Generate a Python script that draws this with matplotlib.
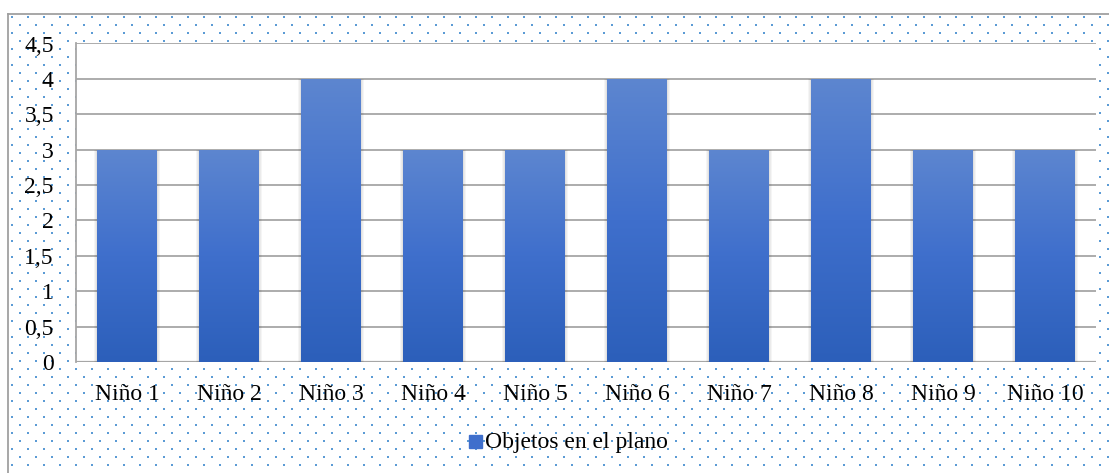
import numpy as np
import matplotlib
matplotlib.use("Agg")
import matplotlib.pyplot as plt
from matplotlib.patches import Rectangle

# Data
categories = ["Niño 1", "Niño 2", "Niño 3", "Niño 4", "Niño 5",
              "Niño 6", "Niño 7", "Niño 8", "Niño 9", "Niño 10"]
objetos = [3, 3, 4, 3, 3, 4, 3, 4, 3, 3]
y_ticks = [0, 0.5, 1, 1.5, 2, 2.5, 3, 3.5, 4, 4.5]
y_labels = ["0", "0,5", "1", "1,5", "2", "2,5", "3", "3,5", "4", "4,5"]
series_name = "Objetos en el plano"

plt.rcParams['font.family'] = ['Liberation Serif', 'DejaVu Serif']
FS = 17

W, H = 1109, 473
fig = plt.figure(figsize=(W / 100, H / 100), dpi=100)

# dotted background pattern (figure coords in pixels)
bg = fig.add_axes([0, 0, 1, 1])
bg.set_xlim(0, W)
bg.set_ylim(H, 0)
bg.axis("off")
xs, ys = [], []
for r, yy in enumerate(np.arange(17, H, 8)):
    start = 12 if r % 2 == 0 else 4
    for xx in np.arange(start, W, 16):
        if xx > 9 and yy > 15:
            xs.append(xx)
            ys.append(yy)
bg.scatter(xs, ys, s=2.2, marker="s", color="#5b9bd5", linewidths=0)
bg.plot([8, 8], [H, 14], color="#a0a0a0", lw=1.3)
bg.plot([8, W], [14, 14], color="#a0a0a0", lw=1.3)

# plot area
left, right, top, bottom = 76, 1096, 43.5, 362
ax = fig.add_axes([left / W, 1 - bottom / H, (right - left) / W, (bottom - top) / H])
ax.set_facecolor("white")
ax.set_zorder(2)

x = np.arange(len(categories))
width = 0.58

ax.set_yticks(y_ticks)
ax.set_yticklabels(y_labels)
ax.yaxis.grid(True, color="#a6a6a6", lw=1.3)
ax.set_axisbelow(True)
for s in ["top", "right", "bottom"]:
    ax.spines[s].set_visible(False)
ax.spines["left"].set_color("#a6a6a6")
ax.spines["left"].set_linewidth(1.3)
ax.axhline(0, color="#a6a6a6", lw=1.6, zorder=1)
ax.tick_params(axis="y", length=0, pad=16, labelsize=FS)
ax.set_xticks(x)
ax.set_xticklabels(categories)
ax.tick_params(axis="x", length=0, pad=16, labelsize=FS)

# gradient bars with soft side shadow
grad = np.linspace(0, 1, 256).reshape(-1, 1)
cmap = matplotlib.colors.LinearSegmentedColormap.from_list(
    "bar", ["#2c5fba", "#3f6fcc", "#5d86d0"])
for xi, v in zip(x, objetos):
    for k in range(4, 0, -1):
        d = 0.008 * k
        ax.add_patch(Rectangle((xi - width / 2 - d, 0), width + 2 * d, v,
                               color="black", alpha=0.04, lw=0, zorder=2))
    im = ax.imshow(grad, extent=[xi - width / 2, xi + width / 2, 0, v], origin="lower",
                   cmap=cmap, aspect="auto", zorder=3)
    rect = Rectangle((xi - width / 2, 0), width, v, transform=ax.transData, fc="none", lw=0)
    ax.add_patch(rect)
    im.set_clip_path(rect)
ax.set_xlim(-0.5, len(categories) - 0.5)
ax.set_ylim(0, 4.5)

# legend
bg.add_patch(Rectangle((469, 435), 13, 13, color="#3f6fcc", zorder=3))
bg.text(485, 442, series_name, fontsize=FS, va="center", ha="left")

fig.savefig("out.png", dpi=100)
